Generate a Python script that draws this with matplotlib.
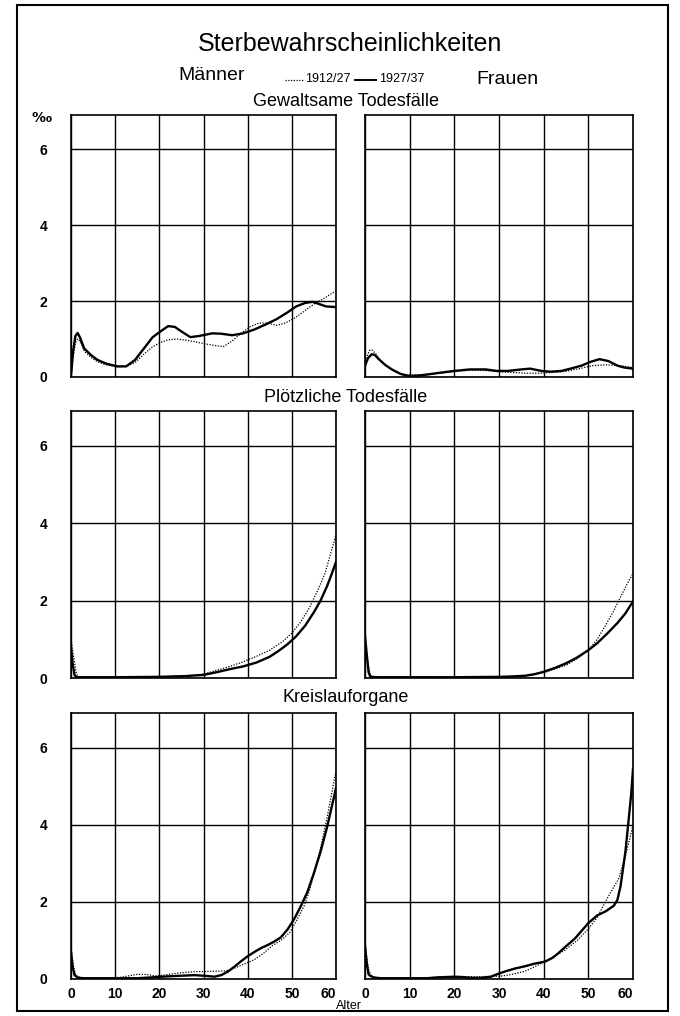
import matplotlib
matplotlib.use("Agg")
import matplotlib.pyplot as plt
from matplotlib.patches import Rectangle
from matplotlib.lines import Line2D

plt.rcParams['font.family'] = ['Liberation Sans Narrow', 'Liberation Sans', 'DejaVu Sans']

# Gewaltsame Todesfaelle - Maenner
gew_m_age_27 = [0, 0.5, 1, 1.5, 2, 3, 4.5, 6, 8, 10.5, 12.5, 14.5, 16.5, 18.5, 20.5, 22, 23.5, 25, 27, 29,
                32, 34, 36.5, 39, 41.5, 44, 46.5, 49, 51, 53, 54.7, 56, 57.7, 60]
gew_m_27 = [0.05, 0.7, 1.08, 1.16, 1.05, 0.75, 0.58, 0.45, 0.35, 0.28, 0.28, 0.45, 0.75, 1.05, 1.22, 1.34,
            1.32, 1.2, 1.05, 1.08, 1.15, 1.14, 1.1, 1.15, 1.25, 1.38, 1.52, 1.7, 1.86, 1.95, 1.98, 1.93, 1.86, 1.84]
gew_m_age_12 = [0, 0.5, 1, 1.5, 2, 3, 4.5, 6, 8, 10.5, 12.5, 14.5, 16.5, 18.5, 20.5, 22, 24, 26, 28, 30,
                32, 34.5, 36.5, 38.5, 40.5, 42.5, 44.5, 46.5, 48.5, 51, 53, 55, 57, 60]
gew_m_12 = [0.05, 0.55, 0.9, 1.0, 0.95, 0.68, 0.52, 0.4, 0.32, 0.27, 0.28, 0.38, 0.6, 0.8, 0.92, 0.98,
            1.0, 0.97, 0.93, 0.88, 0.84, 0.8, 0.95, 1.15, 1.32, 1.42, 1.42, 1.36, 1.42, 1.58, 1.75, 1.92, 2.05, 2.27]

# Gewaltsame Todesfaelle - Frauen
gew_f_age_27 = [0, 0.7, 1.5, 2.2, 3, 4.5, 6, 8, 10, 13, 16, 20, 23.5, 27, 29.5, 32, 35, 37, 39.5, 41.5,
                44, 46, 48.5, 50.5, 52.5, 54.5, 56.5, 58, 60]
gew_f_27 = [0.3, 0.5, 0.6, 0.58, 0.48, 0.32, 0.2, 0.08, 0.02, 0.05, 0.1, 0.16, 0.2, 0.2, 0.16, 0.16, 0.2,
            0.22, 0.16, 0.14, 0.16, 0.22, 0.3, 0.4, 0.47, 0.42, 0.3, 0.25, 0.22]
gew_f_age_12 = [0, 0.5, 1, 1.5, 2.5, 3.5, 5, 7, 9, 12, 15, 18, 21, 24, 27, 30, 33, 36, 39, 42, 45, 48,
                51, 54, 57, 60]
gew_f_12 = [0.2, 0.55, 0.7, 0.72, 0.6, 0.42, 0.28, 0.12, 0.06, 0.06, 0.08, 0.12, 0.16, 0.18, 0.17, 0.14,
            0.12, 0.1, 0.1, 0.12, 0.15, 0.22, 0.3, 0.32, 0.3, 0.25]

# Ploetzliche Todesfaelle - Maenner
pl_m_age_27 = [0, 0.4, 0.8, 1.2, 3, 10, 20, 26, 30, 33, 36, 39, 42, 45, 47, 49, 51, 53, 55, 56.5, 58, 59, 60]
pl_m_27 = [0.78, 0.35, 0.08, 0.02, 0.02, 0.02, 0.03, 0.05, 0.08, 0.15, 0.23, 0.3, 0.4, 0.55, 0.7, 0.87,
           1.08, 1.35, 1.7, 2.0, 2.38, 2.68, 3.0]
pl_m_age_12 = [0, 0.4, 0.8, 1.2, 1.6, 3, 10, 20, 26, 30, 33, 36, 39, 42, 45, 48, 50, 52, 54, 56, 57.5, 59, 60]
pl_m_12 = [1.0, 0.7, 0.4, 0.12, 0.03, 0.02, 0.02, 0.03, 0.05, 0.1, 0.2, 0.3, 0.42, 0.56, 0.72, 0.95, 1.16,
           1.45, 1.82, 2.3, 2.7, 3.3, 3.7]

# Ploetzliche Todesfaelle - Frauen
pl_f_age_27 = [0, 0.4, 0.8, 1.2, 3, 10, 20, 30, 33, 36, 38, 40, 42.5, 45, 47.5, 50, 52, 54.5, 56.5, 58.3, 60]
pl_f_27 = [1.08, 0.6, 0.15, 0.03, 0.02, 0.02, 0.02, 0.03, 0.04, 0.06, 0.1, 0.16, 0.26, 0.38, 0.53, 0.72,
           0.9, 1.18, 1.42, 1.67, 1.98]
pl_f_age_12 = [0, 0.4, 0.8, 1.2, 1.6, 3, 10, 20, 30, 35, 38, 40, 42.5, 45, 47.5, 50, 52, 53.8, 55.5, 57.5, 59, 60]
pl_f_12 = [0.9, 0.6, 0.3, 0.08, 0.03, 0.02, 0.02, 0.02, 0.02, 0.05, 0.09, 0.14, 0.23, 0.33, 0.5, 0.72,
           1.0, 1.35, 1.7, 2.16, 2.5, 2.7]

# Kreislauforgane - Maenner
kr_m_age_27 = [0, 0.4, 0.8, 1.5, 2.5, 5, 10, 15, 18, 20.5, 24, 28, 30.5, 32.5, 34, 35.5, 37, 38.5, 40,
               41.5, 43, 44.5, 46, 47.5, 49, 50.5, 52, 53.5, 55, 56.5, 58, 59, 60]
kr_m_27 = [0.68, 0.3, 0.1, 0.04, 0.02, 0.02, 0.02, 0.02, 0.04, 0.06, 0.08, 0.1, 0.08, 0.06, 0.1, 0.19,
           0.32, 0.46, 0.59, 0.7, 0.8, 0.88, 0.97, 1.08, 1.28, 1.55, 1.88, 2.25, 2.75, 3.3, 3.95, 4.45, 4.95]
kr_m_age_12 = [0, 0.3, 0.7, 1.2, 2, 4, 8, 11, 13, 15, 17, 19, 21, 24, 28, 32, 35, 37, 39, 41.5, 43.5,
               45.5, 47.5, 49.5, 51, 52.8, 54, 55.2, 56.5, 58, 59, 60]
kr_m_12 = [0.85, 0.55, 0.25, 0.08, 0.04, 0.03, 0.03, 0.04, 0.08, 0.12, 0.12, 0.08, 0.1, 0.15, 0.19, 0.2,
           0.21, 0.28, 0.38, 0.5, 0.66, 0.86, 1.0, 1.2, 1.5, 1.9, 2.3, 2.8, 3.4, 4.2, 4.8, 5.4]

# Kreislauforgane - Frauen
kr_f_age_27 = [0, 0.4, 0.8, 1.2, 2, 3.5, 6, 10, 14, 16, 18, 20, 22, 23.7, 26, 28.2, 29.5, 31.2, 33.5,
               35.8, 38, 40.3, 42, 43.3, 45, 47, 48.5, 50, 52, 53.8, 55.7, 56.5, 57.2, 58.3, 59, 59.6, 60]
kr_f_27 = [0.85, 0.4, 0.12, 0.08, 0.04, 0.02, 0.02, 0.02, 0.02, 0.04, 0.05, 0.06, 0.05, 0.03, 0.03, 0.06,
           0.12, 0.19, 0.27, 0.33, 0.4, 0.45, 0.55, 0.67, 0.85, 1.05, 1.25, 1.45, 1.65, 1.75, 1.9, 2.05,
           2.4, 3.3, 4.1, 4.8, 5.45]
kr_f_age_12 = [0, 0.4, 0.8, 1.5, 3, 6, 10, 15, 20, 25, 30, 32, 34, 35.8, 38, 40.3, 42.5, 44.8, 47.5,
               50, 52, 53.8, 55.5, 56.8, 58.3, 59.2, 60]
kr_f_12 = [0.95, 0.55, 0.25, 0.05, 0.03, 0.03, 0.03, 0.04, 0.06, 0.06, 0.07, 0.1, 0.15, 0.2, 0.32, 0.45,
           0.6, 0.75, 1.0, 1.3, 1.6, 2.0, 2.35, 2.6, 3.2, 3.6, 4.0]

row_titles = ["Gewaltsame Todesfälle", "Plötzliche Todesfälle", "Kreislauforgane"]
y_ticks = [0, 2, 4, 6]
x_ticks = [0, 10, 20, 30, 40, 50, 60]

panels = [
    [(gew_m_age_12, gew_m_12, gew_m_age_27, gew_m_27), (gew_f_age_12, gew_f_12, gew_f_age_27, gew_f_27)],
    [(pl_m_age_12, pl_m_12, pl_m_age_27, pl_m_27), (pl_f_age_12, pl_f_12, pl_f_age_27, pl_f_27)],
    [(kr_m_age_12, kr_m_12, kr_m_age_27, kr_m_27), (kr_f_age_12, kr_f_12, kr_f_age_27, kr_f_27)],
]

W, H = 680, 1016
fig = plt.figure(figsize=(6.8, 10.16), dpi=100)

cols_px = [(71, 336), (365, 633)]
rows_px = [(115, 377), (411, 678), (713, 979)]
num_font = ['Liberation Sans', 'DejaVu Sans']

for r, (top, bot) in enumerate(rows_px):
    for c, (left, right) in enumerate(cols_px):
        ax = fig.add_axes([left / W, 1 - bot / H, (right - left) / W, (bot - top) / H])
        a12, v12, a27, v27 = panels[r][c]
        ax.plot(a12, v12, color='black', lw=0.9, ls=(0, (1, 1.2)))
        ax.plot(a27, v27, color='black', lw=1.7)
        ax.set_xlim(0, 60)
        ax.set_ylim(0, 6.9)
        ax.set_xticks(x_ticks)
        ax.set_yticks(y_ticks)
        ax.grid(True, color='black', lw=1.0)
        ax.tick_params(length=0)
        for s in ax.spines.values():
            s.set_linewidth(1.2)
        if c == 0:
            ax.set_yticklabels([str(t) for t in y_ticks], fontsize=10, fontweight='bold', family=num_font)
            ax.tick_params(axis='y', pad=17)
        else:
            ax.set_yticklabels([])
        if r == 2:
            labs = ax.set_xticklabels([str(t) for t in x_ticks], fontsize=10, fontweight='bold',
                                      family=num_font)
            labs[-1].set_ha('right')
            ax.tick_params(axis='x', pad=6)
        else:
            ax.set_xticklabels([])

# titles
fig.text(350 / W, 1 - 44 / H, "Sterbewahrscheinlichkeiten", fontsize=18, ha='center', va='center')
fig.text(212 / W, 1 - 75 / H, "Männer", fontsize=14, ha='center', va='center')
fig.text(507 / W, 1 - 79 / H, "Frauen", fontsize=14, ha='center', va='center')
fig.add_artist(Line2D([285 / W, 303 / W], [1 - 80 / H, 1 - 80 / H], color='black', lw=0.9,
                      ls=(0, (1, 1.2))))
fig.text(305 / W, 1 - 79 / H, "1912/27", fontsize=9, ha='left', va='center')
fig.add_artist(Line2D([355 / W, 376 / W], [1 - 80 / H, 1 - 80 / H], color='black', lw=1.4))
fig.text(379 / W, 1 - 79 / H, "1927/37", fontsize=9, ha='left', va='center')

title_y = [102, 398, 698]
for t, y in zip(row_titles, title_y):
    fig.text(346 / W, 1 - y / H, t, fontsize=13, ha='center', va='center')

fig.text(42 / W, 1 - 118 / H, "‰", fontsize=10, fontweight='bold', ha='center', va='center',
         family=['DejaVu Sans'])
fig.text(349 / W, 1 - 1006 / H, "Alter", fontsize=9, ha='center', va='center')

fig.add_artist(Rectangle((17 / W, 1 - 1011 / H), (668 - 17) / W, (1011 - 5) / H, fill=False,
                         lw=1.5, color='black', transform=fig.transFigure))

fig.savefig("out.png", dpi=100)
